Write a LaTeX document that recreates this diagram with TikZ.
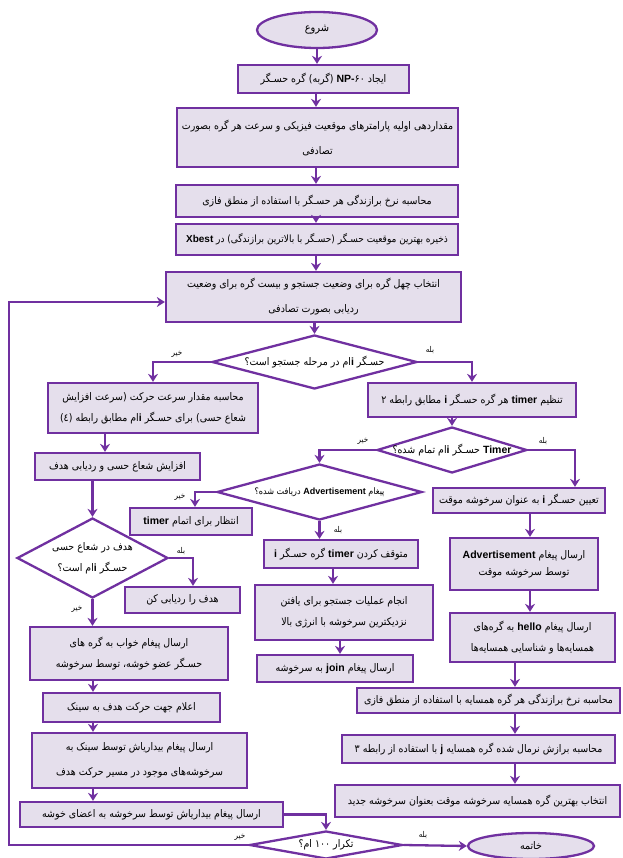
\documentclass[tikz,border=0pt]{standalone}
\usepackage{fontspec}
\setmainfont{Liberation Sans}
\newfontfamily\arabicfont[Script=Arabic,FakeStretch=0.9]{DejaVu Sans}
\newfontfamily\latinfont{Liberation Sans}
\TeXXeTstate=1
\usetikzlibrary{shapes.geometric,arrows.meta,calc}
\definecolor{pur}{HTML}{7030A0}
\definecolor{lav}{HTML}{E5DFEC}
\newcommand\fa[1]{{\arabicfont\beginR #1\endR}}
\newcommand\lt[1]{{\latinfont\bfseries\beginL #1\endL}}
\newcommand\fsz{\fontsize{10.5}{21}\selectfont}
\newcommand\fszb{\fontsize{10.5}{25}\selectfont}
\tikzset{
  box/.style 2 args={draw=pur, fill=lav, line width=2.3pt, inner sep=0pt, align=center,
     font=\fsz, minimum width=#1pt, minimum height=#2pt},
  dia/.style 2 args={draw=pur, fill=white, line width=2.3pt, diamond, inner sep=0pt,
     minimum width=#1pt, minimum height=#2pt},
  ell/.style 2 args={draw=pur, fill=lav, line width=2.3pt, ellipse, inner sep=0pt,
     minimum width=#1pt, minimum height=#2pt, font=\fsz},
  dtext/.style={inner sep=0pt, align=center, font=\fsz},
  lbl/.style={inner sep=0pt, font=\fontsize{8}{9}\selectfont},
  arr/.style={draw=pur, line width=2.3pt, -{Stealth[length=8pt,width=10pt]}},
}
\begin{document}
\begin{tikzpicture}[x=1pt,y=-1pt]
\useasboundingbox (0,0) rectangle (622,858);
% main column
\node[ell={120}{36}, font=\fontsize{11}{12}\selectfont] (E1) at (317,30) {\fa{شروع}};
\node[box={171}{28}] (B2) at (323.5,79) {\fa{ایجاد \beginL{\latinfont\bfseries NP-}{\arabicfont ۶۰}\endL{} (گربه) گره حسـگر}};
\node[box={281}{59}, font=\fszb] (B3) at (317.5,137.5) {\fa{مقداردهی اولیه پارامترهای موقعیت فیزیکی و سرعت هر گره بصورت}\\\fa{تصادفی}};
\node[box={282}{32}] (B4) at (317,201) {\fa{محاسبه نرخ برازندگی هر حسـگر با استفاده از منطق فازی}};
\node[box={282}{31}, font=\fontsize{10}{20}\selectfont] (B5) at (317,239.5) {\fa{ذخیره بهترین موقعیت حسـگر (حسـگر با بالاترین برازندگی) در \lt{Xbest}}};
\node[box={295}{50}, font=\fszb] (B6) at (313.5,297) {\fa{انتخاب چهل گره برای وضعیت جستجو و بیست گره برای وضعیت}\\\fa{ردیابی بصورت تصادفی}};
\node[dia={205}{54}] (D1) at (314.5,362) {};
\node[dtext] at (D1) {\fa{حسـگر \lt{i}ام در مرحله جستجو است؟}};
% left column
\node[box={210}{50}] (B8) at (153,408) {\fa{محاسبه مقدار سرعت حرکت (سرعت افزایش}\\\fa{شعاع حسی) برای حسـگر \lt{i}ام مطابق رابطه (٤)}};
\node[box={165}{27}] (B9) at (117.5,466.5) {\fa{افزایش شعاع حسی و ردیابی هدف}};
\node[dia={151}{80}] (D3) at (92.5,558) {};
\node[dtext] at (D3) {\fa{هدف در شعاع حسی}\\\fa{حسـگر \lt{i}ام است؟}};
\node[box={115}{26}] (B11) at (182.5,600) {\fa{هدف را ردیابی کن}};
\node[box={198}{53}] (B12) at (129,653.5) {\fa{ارسال پیغام خواب به گره های}\\\fa{حسـگر عضو خوشه، توسط سرخوشه}};
\node[box={177}{29}] (B13) at (131.5,707.5) {\fa{اعلام جهت حرکت هدف به سینک}};
\node[box={215}{55}, font=\fszb] (B14) at (139.5,760.5) {\fa{ارسال پیغام بیداریاش توسط سینک به}\\\fa{سرخوشه‌های موجود در مسیر حرکت هدف}};
\node[box={263}{25}] (B15) at (151.5,814.5) {\fa{ارسال پیغام بیداریاش توسط سرخوشه به اعضای خوشه}};
\node[dia={153}{28}] (D16) at (326,845) {};
\node[dtext] at (D16) {\fa{تکرار ۱۰۰ ام؟}};
\node[ell={126}{26}] (E17) at (531,846) {\fa{خاتمه}};
% right and middle
\node[box={208}{34}] (B18) at (472,400) {\fa{تنظیم \lt{timer} هر گره حسـگر \lt{i} مطابق رابطه ۲}};
\node[dia={150}{46}] (D19) at (452,450) {};
\node[dtext] at (D19) {\fa{\lt{Timer} حسـگر \lt{i}ام تمام شده؟}};
\node[dia={205}{56}] (D20) at (319.5,492) {};
\node[dtext, font=\fontsize{9}{10}\selectfont] at (D20) {\fa{پیغام \lt{Advertisement} دریافت شده؟}};
\node[box={122}{27}] (B21) at (191,521.5) {\fa{انتظار برای اتمام \lt{timer}}};
\node[box={154}{28}] (B22) at (341,554) {\fa{متوقف کردن \lt{timer} گره حسـگر \lt{i}}};
\node[box={178}{55}] (B23) at (344,612.5) {\fa{انجام عملیات جستجو برای یافتن}\\\fa{نزدیکترین سرخوشه با انرژی بالا}};
\node[box={156}{27}] (B24) at (335,668.5) {\fa{ارسال پیغام \lt{join} به سرخوشه}};
\node[box={172}{25}] (B25) at (519,500.5) {\fa{تعیین حسـگر \lt{i} به عنوان سرخوشه موقت}};
\node[box={148}{52}, font=\fontsize{10.5}{17}\selectfont] (B26) at (524,564) {\fa{ارسال پیغام \lt{Advertisement}}\\\fa{توسط سرخوشه موقت}};
\node[box={165}{49}] (B27) at (532.5,637.5) {\fa{ارسال پیغام \lt{hello} به گره‌های}\\\fa{همسایه‌ها و شناسایی همسایه‌ها}};
\node[box={263}{25}] (B28) at (488.5,700.5) {\fa{محاسبه نرخ برازندگی هر گره همسایه با استفاده از منطق فازی}};
\node[box={273}{28}] (B29) at (478.5,749) {\fa{محاسبه برازش نرمال شده گره همسایه \lt{j} با استفاده از رابطه ۳}};
\node[box={285}{32}] (B30) at (477.5,801) {\fa{انتخاب بهترین گره همسایه سرخوشه موقت بعنوان سرخوشه جدید}};
% connectors main
\draw[arr] (E1.south) -- (E1.south |- B2.north);
\draw[arr] (316,0 |- B2.south) -- (316,0 |- B3.north);
\draw[arr] (316,0 |- B3.south) -- (316,0 |- B4.north);
\draw[arr] (316,0 |- B4.south) -- (316,0 |- B5.north);
\draw[arr] (316,0 |- B5.south) -- (316,0 |- B6.north);
\draw[arr] (D1.north |- B6.south) -- (D1.north);
\draw[arr] (D1.west) -| (B8.north);
\draw[arr] (D1.east) -| (B18.north);
% left
\draw[arr] (105,0 |- B8.south) -- (105,0 |- B9.north);
\draw[arr] (B9.south -| D3.north) -- (D3.north);
\draw[arr] (D3.east) -| (193,0 |- B11.north);
\draw[arr] (D3.south) -- (D3.south |- B12.north);
\draw[arr] (93,0 |- B12.south) -- (93,0 |- B13.north);
\draw[arr] (93,0 |- B13.south) -- (93,0 |- B14.north);
\draw[arr] (93,0 |- B14.south) -- (93,0 |- B15.north);
\draw[arr] (B15.east) -| (D16.north);
\draw[arr] (D16.west) -- (9,0 |- D16.west) -- (9,302) -- (B6.west |- 0,302);
\draw[arr] (D16.east) -- (E17.west);
% right / middle
\draw[arr] (B18.south -| D19.north) -- (D19.north);
\draw[arr] (D19.west) -| (D20.north);
\draw[arr] (D19.east) -| (575,0 |- B25.north);
\draw[arr] (D20.west) -| (195,0 |- B21.north);
\draw[arr] (D20.south) -- (D20.south |- B22.north);
\draw[arr] (333,0 |- B22.south) -- (333,0 |- B23.north);
\draw[arr] (340,0 |- B23.south) -- (340,0 |- B24.north);
\draw[arr] (530,0 |- B25.south) -- (530,0 |- B26.north);
\draw[arr] (530,0 |- B26.south) -- (530,0 |- B27.north);
\draw[arr] (515,0 |- B27.south) -- (515,0 |- B28.north);
\draw[arr] (515,0 |- B28.south) -- (515,0 |- B29.north);
\draw[arr] (515,0 |- B29.south) -- (515,0 |- B30.north);
% labels
\node[lbl] at (177,354) {\fa{خیر}};
\node[lbl] at (430,350) {\fa{بله}};
\node[lbl] at (363,441) {\fa{خیر}};
\node[lbl] at (543,441) {\fa{بله}};
\node[lbl] at (180,497) {\fa{خیر}};
\node[lbl] at (338,530) {\fa{بله}};
\node[lbl] at (181,551) {\fa{بله}};
\node[lbl] at (77,609) {\fa{خیر}};
\node[lbl] at (240,837) {\fa{خیر}};
\node[lbl] at (423,835) {\fa{بله}};
\end{tikzpicture}
\end{document}
